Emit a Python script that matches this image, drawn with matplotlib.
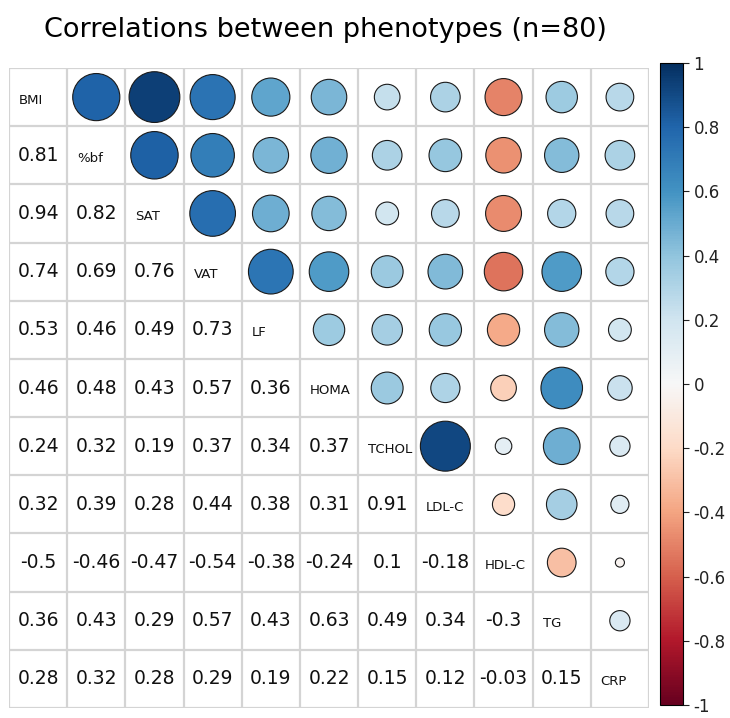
import numpy as np
import matplotlib
matplotlib.use("Agg")
from matplotlib import pyplot as plt
from matplotlib.patches import Circle
from matplotlib import cm, colors

labels = ["BMI", "%bf", "SAT", "VAT", "LF", "HOMA", "TCHOL", "LDL-C", "HDL-C", "TG", "CRP"]

# lower triangle, row by row
low = [
    [],
    [0.81],
    [0.94, 0.82],
    [0.74, 0.69, 0.76],
    [0.53, 0.46, 0.49, 0.73],
    [0.46, 0.48, 0.43, 0.57, 0.36],
    [0.24, 0.32, 0.19, 0.37, 0.34, 0.37],
    [0.32, 0.39, 0.28, 0.44, 0.38, 0.31, 0.91],
    [-0.5, -0.46, -0.47, -0.54, -0.38, -0.24, 0.1, -0.18],
    [0.36, 0.43, 0.29, 0.57, 0.43, 0.63, 0.49, 0.34, -0.3],
    [0.28, 0.32, 0.28, 0.29, 0.19, 0.22, 0.15, 0.12, -0.03, 0.15],
]

n = len(labels)
W, H = 730, 718
fig = plt.figure(figsize=(W / 100, H / 100), dpi=100)

ax = fig.add_axes([9 / W, (H - 708) / H, (649 - 9) / W, (708 - 68) / H])
ax.set_xlim(0, n)
ax.set_ylim(n, 0)
ax.axis("off")

cmap = plt.get_cmap("RdBu")
norm = colors.Normalize(-1, 1)

# grid
for k in range(n + 1):
    ax.plot([k, k], [0, n], color="#d4d4d4", lw=1.6, zorder=1)
    ax.plot([0, n], [k, k], color="#d4d4d4", lw=1.6, zorder=1)

for i in range(n):
    # diagonal label
    ax.text(i + 0.17, i + 0.55, labels[i], ha="left", va="center", fontsize=9.5, color="#111111")
    for j in range(i):
        v = low[i][j]
        # number in lower triangle
        ax.text(j + 0.5, i + 0.5, f"{v:g}", ha="center", va="center", fontsize=13.5, color="#111111")
        # circle in upper triangle (row j, col i)
        r = 0.45 * np.sqrt(abs(v))
        ax.add_patch(Circle((i + 0.5, j + 0.5), r, facecolor=cmap(norm(v)),
                            edgecolor="#1a1a1a", lw=0.8, zorder=3))

fig.text(325 / W, 1 - 30 / H, "Correlations between phenotypes (n=80)",
         ha="center", va="center", fontsize=19.5)

# colorbar
cax = fig.add_axes([660 / W, (H - 705) / H, 23 / W, (705 - 63) / H])
cb = fig.colorbar(cm.ScalarMappable(norm=norm, cmap=cmap), cax=cax,
                  ticks=np.arange(-1, 1.01, 0.2))
cb.ax.set_yticklabels(["-1", "-0.8", "-0.6", "-0.4", "-0.2", "0", "0.2", "0.4", "0.6", "0.8", "1"])
cb.ax.tick_params(labelsize=12, length=4, width=0.8, colors="#222222")
cb.outline.set_linewidth(0.8)

fig.savefig("out.png", dpi=100)
